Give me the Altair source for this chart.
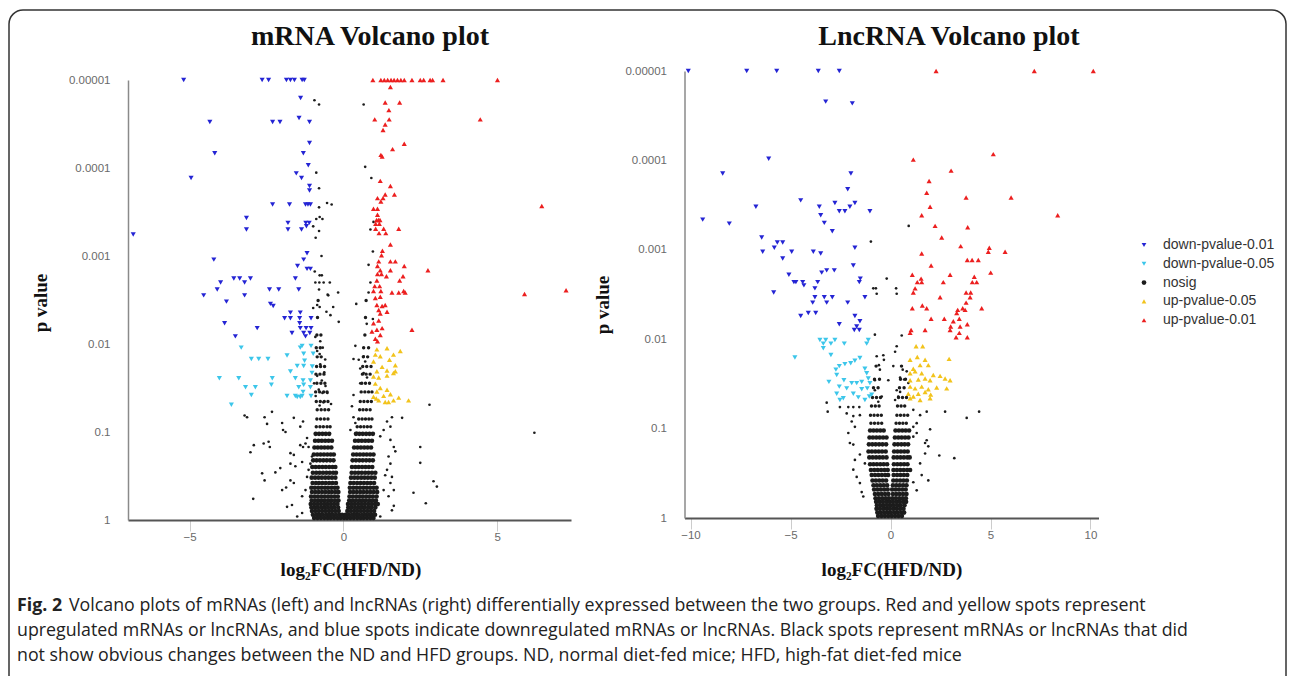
import altair as alt
import pandas as pd

CATS = ["down-pvalue-0.01", "down-pvalue-0.05", "nosig", "up-pvalue-0.05", "up-pvalue-0.01"]
COLORS = ["#2424d4", "#3cc6ea", "#1c1c1c", "#f2c31c", "#ec1f1f"]
SHAPES = ["triangle-down", "triangle-down", "circle", "triangle-up", "triangle-up"]

Y_TICKS = [0.00001, 0.0001, 0.001, 0.01, 0.1, 1]
MRNA_X_TICKS = [-5, 0, 5]
LNC_X_TICKS = [-10, -5, 0, 5, 10]

# ---------------- mRNA panel: rows of (p value, [log2FC ...]) ----------------
mrna_down01 = [
    (1e-5, [-5.19, -2.64, -2.43, -1.85, -1.72, -1.59, -1.34, -1.27]),
    (1.6e-5, [-1.39]), (2.7e-5, [-1.44]), (3.0e-5, [-4.34, -2.30, -2.06, -1.10]),
    (5.2e-5, [-1.10]), (6.8e-5, [-4.18, -1.30]), (9.3e-5, [-1.14]), (1.15e-4, [-1.53]),
    (1.3e-4, [-4.95, -1.36]), (1.6e-4, [-1.10]), (1.8e-4, [-1.10]),
    (2.6e-4, [-2.30, -1.75, -1.23, -1.15, -1.07]), (3.7e-4, [-3.15]),
    (4.2e-4, [-1.80, -1.22, -1.11]), (4.6e-4, [-1.20]), (5.0e-4, [-3.15, -1.80, -1.36]),
    (5.7e-4, [-6.83]), (9.3e-4, [-1.18]), (1.1e-3, [-4.21, -1.29]), (1.3e-3, [-1.49]),
    (1.4e-3, [-1.18, -1.07]), (1.8e-3, [-3.56, -3.37, -3.02, -1.56]), (2.0e-3, [-3.99, -3.21]),
    (2.4e-3, [-4.10, -2.40, -2.10, -1.45]), (2.8e-3, [-4.54, -3.21]), (3.3e-3, [-3.80]),
    (3.5e-3, [-2.37]), (3.7e-3, [-2.28]), (4.4e-3, [-1.72, -1.40]),
    (5.1e-3, [-1.91, -1.72, -1.42, -1.05]), (5.8e-3, [-3.86, -1.42]),
    (6.6e-3, [-2.80, -1.40, -1.21, -1.05]), (7.5e-3, [-1.67, -1.29, -1.09]), (8.2e-3, [-3.51, -1.23]),
]
mrna_down05 = [
    (0.0105, [-1.34, -1.05]), (0.011, [-3.32, -1.40]), (0.0129, [-1.29, -0.98]), (0.0135, [-1.83]),
    (0.0148, [-2.99, -2.75, -2.45]), (0.0155, [-1.26]), (0.0178, [-1.50, -1.29]), (0.018, [-1.01]),
    (0.0205, [-1.72]), (0.0213, [-1.02]), (0.0245, [-4.03, -3.40, -2.31, -1.56]),
    (0.026, [-1.31, -1.07]), (0.029, [-2.34, -1.29]), (0.031, [-3.18, -2.86, -1.45, -1.07]),
    (0.035, [-1.31]), (0.038, [-2.99]), (0.039, [-1.83, -1.56, -1.34, -1.05]),
    (0.040, [-1.50, -1.40]), (0.049, [-3.64]),
]
mrna_up01 = [
    (1e-5, [0.96, 1.22, 1.33, 1.44, 1.55, 1.65, 1.76, 1.87, 1.98, 2.23, 2.50, 2.61, 2.82, 2.90, 3.24, 5.01]),
    (1.2e-5, [1.53]), (1.8e-5, [1.36, 1.83]), (2.2e-5, [1.48]), (2.8e-5, [1.02, 1.49, 4.45]),
    (3.2e-5, [1.36]), (3.7e-5, [1.29]), (5.3e-5, [1.98]), (6.1e-5, [1.60]), (7.1e-5, [1.22]),
    (7.4e-5, [1.26]), (1.4e-4, [1.20]), (1.6e-4, [1.53]), (2.0e-4, [1.36, 1.66]),
    (2.2e-4, [1.11, 1.29]), (2.4e-4, [1.22]), (2.7e-4, [6.45]), (2.9e-4, [0.98, 1.11]),
    (3.4e-4, [1.11]), (3.9e-4, [1.08, 1.14, 1.19]), (4.3e-4, [1.05, 1.17]),
    (4.9e-4, [1.05, 1.31, 1.80]), (5.5e-4, [1.16, 1.38]), (7.4e-4, [1.53]), (8.7e-4, [1.27]),
    (9.8e-4, [1.24]), (1.15e-3, [1.15, 1.53, 1.69]), (1.3e-3, [1.11, 1.98]),
    (1.45e-3, [1.20, 1.53, 2.75]), (1.6e-3, [1.11, 1.24]), (1.7e-3, [1.40, 1.94]),
    (1.9e-3, [1.09, 1.83]), (2.2e-3, [1.02, 1.18]), (2.45e-3, [7.24]), (2.5e-3, [0.98, 1.22, 1.96]),
    (2.6e-3, [1.58, 1.80, 2.01]), (2.7e-3, [5.89]), (2.9e-3, [1.20]), (3.0e-3, [1.04]),
    (3.6e-3, [1.09, 1.36]), (3.7e-3, [1.26]), (4.1e-3, [1.15]), (4.3e-3, [1.42]), (4.5e-3, [1.20]),
    (5.4e-3, [1.15]), (5.8e-3, [0.98]), (6.6e-3, [1.26]), (6.9e-3, [1.09, 2.23]), (7.2e-3, [0.93]),
    (7.9e-3, [1.20]), (8.7e-3, [1.04]), (9.3e-3, [1.11]),
]
mrna_up05 = [
    (0.0112, [1.42]), (0.0115, [1.09]), (0.012, [1.85]), (0.0132, [1.04, 1.63]), (0.0138, [1.20]),
    (0.0151, [1.50]), (0.0158, [0.98]), (0.0174, [1.69]), (0.0182, [1.26]), (0.020, [1.42]),
    (0.0204, [1.09, 1.69]), (0.0214, [1.63]), (0.0229, [1.42]), (0.0234, [0.98]), (0.024, [1.15]),
    (0.0282, [1.04]), (0.0316, [1.20]), (0.0331, [1.42]), (0.0347, [1.09]), (0.0372, [1.53]),
    (0.0389, [1.31]), (0.0398, [0.98]), (0.0407, [1.80]), (0.0417, [1.07]),
    (0.0437, [1.15, 1.63, 2.12]), (0.0457, [1.36, 1.47]),
]
mrna_nosig = [
    (1.7e-5, [-0.94]), (1.9e-5, [-0.79, 0.66]), (9.7e-5, [0.71]), (1.13e-4, [-0.88]), (1.3e-4, [0.91]),
    (1.7e-4, [-0.79]), (2.5e-4, [-0.53]), (2.6e-4, [-0.38]), (2.8e-4, [-0.79]), (3.6e-4, [-0.77]),
    (3.8e-4, [-0.88, -0.68]), (4.1e-4, [0.98]), (4.6e-4, [-0.98]), (5.0e-4, [0.88]), (5.2e-4, [-0.79]),
    (6.2e-4, [-0.90]), (8.9e-4, [0.96]), (1.0e-3, [-0.71]), (1.26e-3, [0.82]), (1.5e-3, [-0.93]),
    (1.66e-3, [-0.77, -0.70]), (2.0e-3, [-0.91, -0.78, -0.64, -0.44, 0.88]), (2.4e-3, [-0.79]),
    (2.6e-3, [-0.17, 0.82]), (2.75e-3, [-0.51]), (2.8e-3, [-0.49]), (3.5e-3, [0.42]),
    (3.6e-3, [-0.85]), (3.8e-3, [-0.77, -0.33]), (3.9e-3, [-0.98]), (4.3e-3, [-0.55]),
    (4.7e-3, [-0.42]), (5.2e-3, [0.96]), (5.6e-3, [-0.15]), (5.9e-3, [0.76]), (8.3e-3, [-0.91]),
    (9.3e-3, [-0.75]), (0.0105, [0.39]), (0.011, [-0.67]), (0.012, [-0.85]), (0.013, [-0.77]),
    (0.0138, [0.66]), (0.0148, [0.33]), (0.015, [-0.59]), (0.0151, [0.50]), (0.0158, [0.71]),
    (0.017, [-0.75]), (0.019, [0.55]), (0.021, [-0.62]), (0.0214, [0.66]), (0.023, [-0.85]),
    (0.024, [0.77]), (0.026, [-0.70]), (0.028, [-0.95, 0.55]), (0.03, [-0.58]), (0.033, [-0.80]),
    (0.036, [-0.68, -0.52]), (0.038, [0.33]), (0.039, [-0.90]), (0.046, [-0.65]), (0.048, [-0.40]),
    (0.049, [2.80]), (0.05, [-0.77]), (0.051, [0.28]), (0.059, [-2.32]), (0.065, [-3.21]),
    (0.068, [-3.13, -2.56, 0.33, 1.58]), (0.069, [-1.61, 1.91]), (0.076, [-1.31, 1.42]),
    (0.079, [-1.99, 0.39]), (0.081, [-2.48]), (0.087, [-1.40, 1.53]), (0.095, [-1.96, 0.23, 1.31]),
    (0.1, [-1.88]), (0.102, [0.44, 6.21]), (0.112, [1.20]), (0.117, [-1.18]), (0.123, [1.53]),
    (0.129, [-2.43]), (0.135, [-2.59, -1.23]), (0.141, [-2.91, -1.40]), (0.148, [-2.39, -1.31, -1.13, 1.64, 2.50]),
    (0.166, [1.69]), (0.17, [-3.02]), (0.174, [-1.72]), (0.182, [-1.61]), (0.19, [-1.02, 1.47]),
    (0.219, [-1.34]), (0.224, [2.50]), (0.229, [-1.72, -1.07, 1.53]), (0.245, [-1.56]),
    (0.257, [-2.05]), (0.269, [-1.13, 1.42]), (0.288, [-2.21]), (0.295, [-2.64]), (0.31, [1.36]),
    (0.324, [-1.18, 1.58]), (0.355, [-2.56, -1.72]), (0.363, [2.93]), (0.38, [-1.61, 1.53]),
    (0.417, [3.04]), (0.427, [-1.86]), (0.457, [-1.99, -1.23, 1.31, 1.64]), (0.49, [2.28]),
    (0.537, [-1.34, 1.47]), (0.575, [-2.93]), (0.646, [2.68]), (0.676, [-1.67]), (0.69, [1.64]),
    (0.708, [-1.83]), (0.776, [1.58]), (0.832, [-1.34]), (0.912, [-1.50, 1.20]),
]
# dense lower part of the black cloud
mrna_core = [
    (0.95, [-0.95, -0.84, -0.73, -0.62, -0.51, -0.41, -0.30, -0.19, -0.09, 0.02, 0.12, 0.23, 0.34, 0.45, 0.56, 0.66, 0.77, 0.88, 0.98]),
    (0.87, [-0.99, -0.88, -0.78, -0.67, -0.56, -0.46, -0.35, -0.24, -0.13, -0.04, 0.07, 0.18, 0.29, 0.39, 0.50, 0.61, 0.72, 0.83, 0.93, 1.03]),
    (0.79, [-1.02, -0.91, -0.80, -0.69, -0.58, -0.47, -0.37, -0.26, -0.15, 0.13, 0.24, 0.35, 0.45, 0.56, 0.67, 0.78, 0.89, 1.00]),
    (0.72, [-1.04, -0.93, -0.83, -0.72, -0.61, -0.50, -0.39, -0.29, -0.17, 0.16, 0.27, 0.38, 0.49, 0.60, 0.70, 0.81, 0.92, 1.04]),
    (0.66, [-1.06, -0.95, -0.84, -0.73, -0.62, -0.52, -0.41, -0.30, -0.19, 0.15, 0.26, 0.37, 0.48, 0.59, 0.70, 0.81, 0.92, 1.03, 1.12]),
    (0.60, [-1.03, -0.92, -0.81, -0.70, -0.60, -0.49, -0.38, -0.27, -0.16, 0.19, 0.30, 0.41, 0.52, 0.63, 0.73, 0.84, 0.95, 1.06]),
    (0.54, [-1.05, -0.94, -0.83, -0.72, -0.61, -0.50, -0.40, -0.29, -0.18, 0.20, 0.31, 0.42, 0.53, 0.63, 0.74, 0.85, 0.96, 1.08]),
    (0.48, [-1.02, -0.91, -0.80, -0.69, -0.58, -0.47, -0.37, -0.26, -0.16, 0.22, 0.33, 0.44, 0.55, 0.66, 0.77, 0.88, 0.99, 1.10]),
    (0.43, [-1.04, -0.93, -0.82, -0.71, -0.60, -0.50, -0.39, -0.28, -0.19, 0.21, 0.32, 0.43, 0.54, 0.65, 0.76, 0.87, 0.98, 1.08]),
    (0.38, [-1.00, -0.89, -0.79, -0.68, -0.57, -0.46, -0.35, -0.24, 0.23, 0.34, 0.45, 0.56, 0.67, 0.78, 0.89, 1.00]),
    (0.33, [-1.03, -0.92, -0.81, -0.70, -0.59, -0.48, -0.37, -0.26, 0.25, 0.36, 0.47, 0.58, 0.69, 0.80, 0.91, 1.02]),
    (0.29, [-0.99, -0.88, -0.77, -0.66, -0.55, -0.44, -0.33, -0.24, 0.27, 0.38, 0.49, 0.60, 0.71, 0.82, 0.93, 1.04]),
    (0.25, [-1.01, -0.90, -0.79, -0.68, -0.57, -0.46, -0.35, -0.26, 0.28, 0.39, 0.50, 0.61, 0.72, 0.83, 0.94]),
    (0.21, [-0.98, -0.87, -0.76, -0.65, -0.54, -0.43, -0.32, 0.30, 0.41, 0.52, 0.63, 0.74, 0.85, 0.96]),
    (0.18, [-0.96, -0.85, -0.74, -0.63, -0.52, -0.41, -0.31, 0.32, 0.43, 0.54, 0.65, 0.76, 0.87, 0.98]),
    (0.15, [-0.94, -0.83, -0.72, -0.61, -0.50, -0.39, 0.35, 0.46, 0.57, 0.68, 0.79, 0.90]),
    (0.126, [-0.92, -0.81, -0.70, -0.59, -0.48, -0.37, 0.38, 0.49, 0.60, 0.71, 0.82, 0.93]),
    (0.105, [-0.90, -0.79, -0.68, -0.57, -0.46, 0.41, 0.52, 0.63, 0.74, 0.85, 0.96]),
]
# thinner upper part of the black cloud
mrna_stem = [
    (0.087, [-0.88, -0.76, -0.65, -0.53, -0.43, 0.45, 0.56, 0.67, 0.78, 0.89]),
    (0.071, [-0.86, -0.74, -0.62, -0.50, 0.50, 0.61, 0.72, 0.83, 0.93]),
    (0.056, [-0.85, -0.72, -0.60, -0.48, 0.53, 0.64, 0.75, 0.87]),
    (0.045, [-0.88, -0.75, -0.62, -0.50, 0.55, 0.67, 0.79, 0.91]),
    (0.035, [-0.90, -0.77, -0.64, -0.53, 0.58, 0.70, 0.82, 0.93]),
    (0.028, [-0.86, -0.73, -0.60, 0.60, 0.72, 0.85]),
    (0.022, [-0.89, -0.76, -0.63, 0.62, 0.74, 0.87]),
    (0.018, [-0.87, -0.74, -0.61, 0.63, 0.76, 0.90]),
    (0.014, [-0.85, -0.72, 0.65, 0.79]),
    (0.011, [-0.88, -0.75, 0.66, 0.82]),
    (0.0079, [-0.86, -0.73, 0.70]),
    (0.005, [-0.84, 0.72]),
    (0.0032, [-0.82, 0.74]),
]

# ---------------- LncRNA panel ----------------
lnc_down01 = [
    (1e-5, [-10.11, -7.19, -5.69, -3.61, -2.56]), (2.2e-5, [-3.24]), (2.3e-5, [-1.91]),
    (9.6e-5, [-6.09]), (1.4e-4, [-8.39, -1.98]), (2.1e-4, [-2.14]), (2.8e-4, [-4.49]),
    (3.0e-4, [-2.78, -1.78]), (3.3e-4, [-6.73, -3.56, -2.03]), (3.7e-4, [-2.56, -2.28, -1.03]),
    (4.1e-4, [-3.49]), (4.6e-4, [-9.39]), (5.0e-4, [-3.31]), (5.1e-4, [-8.06]), (6.2e-4, [-2.91]),
    (7.3e-4, [-6.44]), (8.3e-4, [-5.66, -5.39]), (9.5e-4, [-5.81, -1.78]),
    (1.05e-3, [-6.39, -4.94, -3.86]), (1.1e-3, [-3.49]), (1.25e-3, [-5.39]), (1.5e-3, [-1.86]),
    (1.7e-3, [-3.19, -2.81]), (1.8e-3, [-3.44]), (1.9e-3, [-5.08]), (2.1e-3, [-1.51]),
    (2.3e-3, [-4.83, -4.73, -4.39, -3.64, -1.56]), (2.5e-3, [-4.33]), (2.7e-3, [-3.78]),
    (3.0e-3, [-5.84]), (3.4e-3, [-3.78, -3.31, -2.91, -1.28]), (3.9e-3, [-3.89, -3.19, -2.14]),
    (5.1e-3, [-4.11, -3.74]), (5.5e-3, [-4.49, -1.78]), (6.3e-3, [-1.53]), (6.8e-3, [-2.56]),
    (7.2e-3, [-1.69]), (7.9e-3, [-1.81, -1.56]),
]
lnc_down05 = [
    (0.0102, [-3.53, -3.24, -2.78, -1.11]), (0.0112, [-3.36, -2.98, -2.31, -1.19]), (0.0126, [-3.36]),
    (0.015, [-2.98]), (0.016, [-4.78]), (0.0162, [-1.53]), (0.0174, [-1.78]), (0.0186, [-1.99]),
    (0.019, [-2.28]), (0.020, [-2.56]), (0.0214, [-1.28]), (0.0219, [-2.73]), (0.024, [-1.19]),
    (0.0251, [-2.69]), (0.0275, [-1.11]), (0.0288, [-2.33]), (0.030, [-3.08, -1.44]),
    (0.031, [-1.94, -1.69, -1.03]), (0.0339, [-2.56]), (0.0355, [-2.19, -1.16]), (0.0363, [-1.44]),
    (0.0407, [-2.69, -1.86]), (0.0417, [-0.94]), (0.0437, [-1.06]), (0.0447, [-1.61]),
    (0.0457, [-2.36]), (0.0479, [-2.53, -1.28]),
]
lnc_up01 = [
    (1e-5, [2.28, 7.19, 10.14]), (8.5e-5, [5.14]), (9.8e-5, [1.14]), (1.3e-4, [3.03]), (1.7e-4, [1.93]),
    (2.3e-4, [1.81]), (2.6e-4, [6.03, 3.78]), (3.3e-4, [1.98]), (4.1e-4, [8.36, 1.56]), (5.4e-4, [2.23]),
    (5.6e-4, [3.86]), (7.3e-4, [2.56]), (9.1e-4, [3.51]), (9.5e-4, [4.94]), (1.05e-3, [4.89, 5.73]),
    (1.1e-3, [1.56]), (1.3e-3, [3.84, 4.08, 4.39]), (1.5e-3, [2.03]), (1.8e-3, [5.01]),
    (1.9e-3, [1.09, 2.98]), (2.0e-3, [4.19]), (2.1e-3, [1.53]), (2.3e-3, [1.34, 1.56, 2.64, 4.09, 4.31]),
    (2.7e-3, [1.23]), (3.0e-3, [1.14, 3.78, 4.01]), (3.4e-3, [2.48, 3.98]), (3.9e-3, [3.78]),
    (4.2e-3, [1.59]), (4.5e-3, [1.09, 1.81, 3.61, 4.56]), (4.7e-3, [3.36, 3.73]), (5.1e-3, [3.31]),
    (5.9e-3, [2.03, 2.69, 3.44]), (6.3e-3, [3.14]), (6.8e-3, [3.84]), (7.2e-3, [3.01, 3.48]),
    (7.9e-3, [1.03, 1.73, 2.98]), (8.5e-3, [0.98, 3.44]), (9.5e-3, [3.28, 3.84]),
]
lnc_up05 = [
    (0.012, [1.28, 1.61]), (0.0158, [1.34]), (0.0166, [2.93]), (0.017, [0.98, 1.73]),
    (0.0195, [1.48, 1.89]), (0.0214, [1.14]), (0.0229, [1.23]), (0.024, [0.98, 1.56]),
    (0.0251, [2.14]), (0.0257, [2.48]), (0.0275, [1.73, 2.73]), (0.0282, [1.39]),
    (0.0288, [0.98, 1.98, 2.98]), (0.0339, [0.98, 1.56]), (0.0347, [2.31]), (0.0355, [1.23, 2.81]),
    (0.0363, [1.89]), (0.0389, [1.73]), (0.0407, [0.89, 1.39]), (0.0417, [2.01]),
    (0.0437, [1.14]), (0.0457, [0.98, 1.98]), (0.0479, [1.48]),
]
lnc_nosig = [
    (5.4e-4, [0.91]), (8.1e-4, [-0.98]), (2.1e-3, [-0.19]), (2.7e-3, [-0.86, -0.73, 0.28]),
    (3.1e-3, [-0.69, 0.31]), (8.9e-3, [-0.78]), (9.1e-3, [0.56]), (0.012, [0.31]), (0.0138, [0.23]),
    (0.0151, [-0.36]), (0.0155, [-0.69]), (0.017, [-0.33]), (0.0195, [-0.58]), (0.020, [0.14]),
    (0.0219, [-0.53, 0.61]), (0.0229, [0.81]), (0.0269, [0.48]), (0.0282, [0.68]),
    (0.0288, [-0.11, -0.78]), (0.0309, [0.89]), (0.0372, [-0.78, 0.31]), (0.0389, [0.48]),
    (0.0437, [-0.44, 0.39]), (0.0479, [0.23]), (0.0501, [-0.61]), (0.0513, [-3.19]),
    (0.0575, [-2.53, -2.11, -1.86, -1.56]), (0.0617, [1.14]), (0.0646, [-3.14, 1.81, 2.73, 4.43]),
    (0.0676, [-2.19]), (0.0708, [-1.53, 1.48]), (0.0724, [-1.86]), (0.0759, [3.81]),
    (0.0832, [-1.94]), (0.087, [1.31]), (0.0955, [-1.78, 1.14]), (0.102, [1.98]),
    (0.112, [-2.11, 1.31]), (0.123, [1.14]), (0.135, [1.81]), (0.145, [-2.03, 1.73]),
    (0.151, [-1.86]), (0.158, [1.89]), (0.19, [1.73]), (0.195, [-1.53]), (0.20, [2.44]),
    (0.214, [3.19]), (0.224, [-1.78]), (0.245, [-1.28, 1.48]), (0.288, [-1.86]), (0.331, [1.56]),
    (0.347, [-1.69]), (0.38, [1.89]), (0.398, [1.14]), (0.407, [-1.53]), (0.49, [1.31]),
    (0.513, [-1.44]), (0.575, [-1.36]),
]
lnc_core = [
    (0.95, [-0.62, -0.45, -0.28, -0.11, 0.06, 0.23, 0.40, 0.57]),
    (0.87, [-0.66, -0.49, -0.32, -0.15, 0.02, 0.19, 0.36, 0.53, 0.68]),
    (0.79, [-0.70, -0.53, -0.36, -0.19, -0.03, 0.14, 0.31, 0.48, 0.65]),
    (0.72, [-0.68, -0.51, -0.34, -0.17, 0.00, 0.17, 0.34, 0.51, 0.70]),
    (0.66, [-0.72, -0.55, -0.38, -0.21, -0.05, 0.12, 0.29, 0.46, 0.63, 0.78]),
    (0.60, [-0.75, -0.58, -0.41, -0.24, -0.08, 0.10, 0.27, 0.44, 0.61, 0.77]),
    (0.54, [-0.78, -0.61, -0.44, -0.27, -0.10, 0.12, 0.29, 0.46, 0.63, 0.80]),
    (0.48, [-0.82, -0.65, -0.48, -0.31, -0.14, 0.08, 0.25, 0.42, 0.59, 0.76]),
    (0.43, [-0.85, -0.68, -0.51, -0.34, -0.17, 0.12, 0.29, 0.46, 0.63, 0.80]),
    (0.38, [-0.90, -0.73, -0.56, -0.39, -0.22, 0.14, 0.31, 0.48, 0.65, 0.82]),
    (0.33, [-0.94, -0.77, -0.60, -0.43, -0.26, -0.12, 0.16, 0.33, 0.50, 0.67, 0.84]),
    (0.29, [-0.98, -0.81, -0.64, -0.47, -0.30, -0.14, 0.15, 0.32, 0.49, 0.66, 0.83, 0.98]),
    (0.25, [-1.02, -0.85, -0.68, -0.51, -0.34, -0.17, 0.17, 0.34, 0.51, 0.68, 0.85]),
    (0.21, [-1.06, -0.89, -0.72, -0.55, -0.38, -0.20, 0.16, 0.33, 0.50, 0.67, 0.84, 0.96]),
    (0.18, [-1.10, -0.93, -0.76, -0.59, -0.42, -0.24, 0.18, 0.35, 0.52, 0.69, 0.86]),
    (0.15, [-1.08, -0.91, -0.74, -0.57, -0.40, -0.22, 0.20, 0.37, 0.54, 0.71, 0.88]),
    (0.126, [-1.05, -0.88, -0.71, -0.54, -0.37, -0.20, 0.22, 0.39, 0.56, 0.73, 0.90]),
    (0.105, [-1.02, -0.85, -0.68, -0.51, -0.34, 0.25, 0.42, 0.59, 0.76, 0.93]),
]
lnc_stem = [
    (0.087, [-0.98, -0.80, -0.62, -0.44, 0.28, 0.45, 0.62, 0.79]),
    (0.071, [-1.00, -0.82, -0.64, -0.46, 0.32, 0.50, 0.68, 0.86]),
    (0.056, [-0.95, -0.76, -0.57, 0.35, 0.53, 0.71]),
    (0.045, [-0.90, -0.70, -0.50, 0.40, 0.60, 0.80]),
    (0.035, [-0.85, -0.62, 0.45, 0.68]),
    (0.028, [-0.80, -0.55, 0.50, 0.75]),
    (0.020, [-0.72, 0.55]),
]

CAPTION_BOLD = "Fig. 2"
CAPTION_LINES = [
    "Volcano plots of mRNAs (left) and lncRNAs (right) differentially expressed between the two groups. Red and yellow spots represent",
    "upregulated mRNAs or lncRNAs, and blue spots indicate downregulated mRNAs or lncRNAs. Black spots represent mRNAs or lncRNAs that did",
    "not show obvious changes between the ND and HFD groups. ND, normal diet-fed mice; HFD, high-fat diet-fed mice",
]
TITLES = ["mRNA Volcano plot", "LncRNA Volcano plot"]
X_TITLE = "log\u2082FC(HFD/ND)"
Y_TITLE = "p value"


def table(groups):
    recs = []
    for cat, size, rows in groups:
        for p, vals in rows:
            for x in vals:
                recs.append({"log2fc": x, "pvalue": p, "group": cat, "size": size})
    return pd.DataFrame(recs)


mrna_df = table([
    ("nosig", 21, mrna_core), ("nosig", 12, mrna_stem), ("nosig", 7, mrna_nosig),
    ("down-pvalue-0.05", 26, mrna_down05), ("up-pvalue-0.05", 26, mrna_up05),
    ("down-pvalue-0.01", 26, mrna_down01), ("up-pvalue-0.01", 26, mrna_up01),
])
lnc_df = table([
    ("nosig", 21, lnc_core), ("nosig", 12, lnc_stem), ("nosig", 7, lnc_nosig),
    ("down-pvalue-0.05", 26, lnc_down05), ("up-pvalue-0.05", 26, lnc_up05),
    ("down-pvalue-0.01", 26, lnc_down01), ("up-pvalue-0.01", 26, lnc_up01),
])

LEG = alt.Legend(orient="none", legendX=1137, legendY=238, title=None, labelFont="Liberation Sans",
                 labelFontSize=14, labelColor="#333333", symbolSize=22, rowPadding=4.8,
                 labelOffset=12, padding=0, symbolStrokeWidth=0)


def panel(df, xdom, xrange, xticks, yrange, x_axis_offset, y_axis_offset):
    return alt.Chart(df).mark_point(filled=True, opacity=1, strokeWidth=0).encode(
        x=alt.X("log2fc:Q",
                scale=alt.Scale(domain=xdom, range=xrange, nice=False, zero=False),
                axis=alt.Axis(orient="bottom", offset=x_axis_offset, values=xticks, title=None,
                              grid=False, domainColor="#555555", domainWidth=2,
                              tickColor="#cccccc", tickSize=11, tickWidth=1, labelPadding=0,
                              labelFont="Liberation Sans", labelFontSize=11.5, labelColor="#6a6a6a")),
        y=alt.Y("pvalue:Q",
                scale=alt.Scale(type="log", domain=[1e-5, 1], range=yrange, nice=False),
                axis=alt.Axis(orient="left", offset=y_axis_offset, values=Y_TICKS, format=".5~f",
                              title=None, grid=False, ticks=False, domainColor="#8a8a8a",
                              domainWidth=1.5, labelPadding=18, labelFont="Liberation Sans",
                              labelFontSize=11.5, labelColor="#6a6a6a")),
        color=alt.Color("group:N", scale=alt.Scale(domain=CATS, range=COLORS), legend=LEG),
        shape=alt.Shape("group:N", scale=alt.Scale(domain=CATS, range=SHAPES), legend=LEG),
        size=alt.Size("size:Q", scale=None, legend=None),
    )


left = panel(mrna_df, [-7, 7.4], [128, 571], MRNA_X_TICKS, [80, 520], -156, -128)
right = panel(lnc_df, [-10.3, 10.4], [684.5, 1098.5], LNC_X_TICKS, [71, 518], -158, -684.5)

one = pd.DataFrame({"k": [0]})


def text(txt, x, y, **style):
    return alt.Chart(pd.DataFrame({"t": [txt]})).mark_text(**style).encode(
        text="t:N", x=alt.value(x), y=alt.value(y))


serif_title = dict(font="Liberation Serif", fontSize=28, fontWeight="bold", color="#111111",
                   align="center", baseline="alphabetic")
serif_axis = dict(font="Liberation Serif", fontSize=19, fontWeight="bold", color="#111111",
                  align="center", baseline="alphabetic")
cap_style = dict(font="Open Sans", fontSize=17.8, color="#222222", align="left", baseline="alphabetic")

border = alt.Chart(one).mark_rect(filled=False, stroke="#333333", strokeWidth=1.5, cornerRadius=14).encode(
    x=alt.value(9), x2=alt.value(1286), y=alt.value(10), y2=alt.value(760))

layers = [
    border,
    left, right,
    text(TITLES[0], 370, 45, **serif_title),
    text(TITLES[1], 949, 45, **serif_title),
    text(X_TITLE, 351, 576, **serif_axis),
    text(X_TITLE, 892, 576, **serif_axis),
    text(Y_TITLE, 47, 303, angle=270, **serif_axis),
    text(Y_TITLE, 609, 305, angle=270, **serif_axis),
    text(CAPTION_BOLD, 17, 611, **dict(cap_style, fontWeight="bold")),
    text(CAPTION_LINES[0], 69, 611, **cap_style),
    text(CAPTION_LINES[1], 17, 636, **cap_style),
    text(CAPTION_LINES[2], 17, 661, **cap_style),
]

chart = alt.layer(*layers).resolve_scale(x="independent", y="independent").properties(
    width=1293, height=676, autosize=alt.AutoSizeParams(type="none"), padding=0,
    background="white",
).configure_view(strokeWidth=0)

chart.save("out.html", embed_options={"renderer": "svg", "actions": False})
